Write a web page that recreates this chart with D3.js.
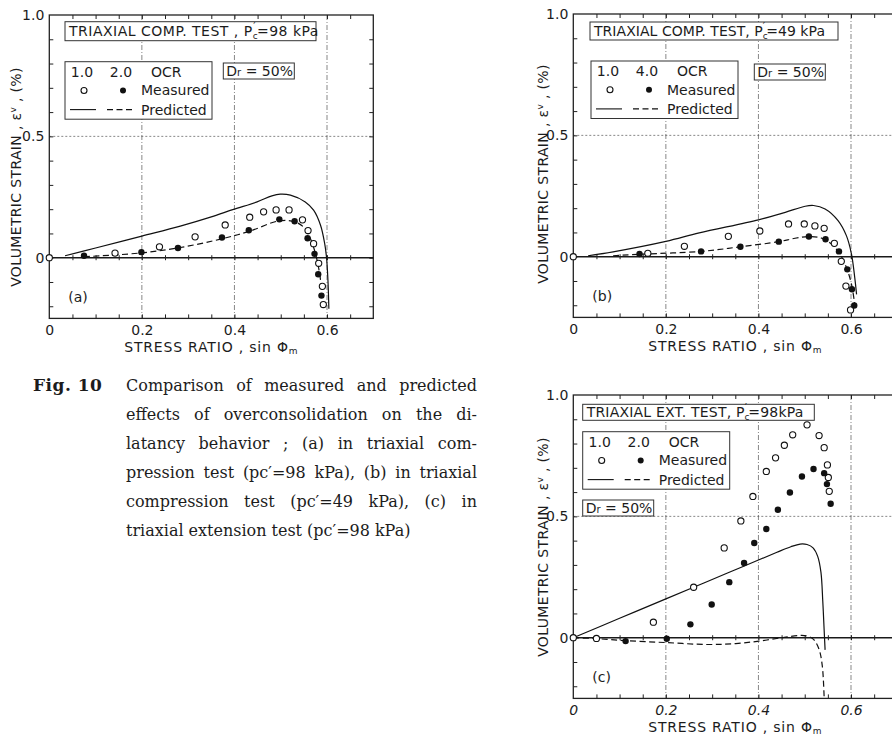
<!DOCTYPE html>
<html>
<head>
<meta charset="utf-8">
<script src="https://cdn.jsdelivr.net/npm/d3@7"></script>
<style>
  html, body { margin: 0; padding: 0; background: #fff; }
  svg { display: block; }
  text { font-family: "DejaVu Sans", "Noto Sans", sans-serif; fill: #1c1c1c; }
  .cap text { font-family: "DejaVu Serif", "Liberation Serif", serif; }
</style>
</head>
<body>
<svg id="fig" width="892" height="739"></svg>
<script>
// ---- axis settings ----
const xDomain = [0, 0.7];
const yDomain = [-0.25, 1.0];
const xTickValues = [0, 0.2, 0.4, 0.6];
const xTickLabels = ["0", "0.2", "0.4", "0.6"];
const yTickValues = [0, 0.5, 1.0];
const yTickLabels = ["0", "0.5", "1.0"];
const xGridValues = [0.2, 0.4, 0.6];
const yGridValues = [0.5];

// ---- (a) triaxial compression, p'c = 98 kPa : OCR 1.0 / 2.0 ----
const aMeasuredOcr1 = [[0,0],[0.142,0.019],[0.238,0.045],[0.315,0.086],[0.38,0.135],[0.433,0.167],[0.463,0.189],[0.490,0.197],[0.518,0.197],[0.547,0.156],[0.559,0.112],[0.571,0.058],[0.582,-0.023],[0.590,-0.118],[0.592,-0.193]];
const aMeasuredOcr2 = [[0.075,0.008],[0.199,0.023],[0.278,0.040],[0.373,0.083],[0.431,0.113],[0.497,0.158],[0.530,0.150],[0.558,0.080],[0.573,0.016],[0.581,-0.068],[0.588,-0.156]];
const aPredictedOcr1 = [[0.034,0.008],[0.1,0.04],[0.2,0.089],[0.283,0.130],[0.35,0.168],[0.398,0.199],[0.449,0.230],[0.481,0.255],[0.499,0.262],[0.521,0.258],[0.553,0.230],[0.571,0.196],[0.586,0.134],[0.595,0.058],[0.599,0],[0.602,-0.093],[0.604,-0.21]];
const aPredictedOcr2 = [[0.075,0.004],[0.2,0.02],[0.283,0.042],[0.373,0.078],[0.431,0.108],[0.497,0.152],[0.530,0.148],[0.550,0.125],[0.564,0.079],[0.575,0.017],[0.584,-0.065],[0.590,-0.162]];

// ---- (b) triaxial compression, p'c = 49 kPa : OCR 1.0 / 4.0 ----
const bMeasuredOcr1 = [[0,0],[0.161,0.014],[0.240,0.043],[0.335,0.084],[0.403,0.106],[0.465,0.135],[0.499,0.135],[0.522,0.127],[0.542,0.117],[0.564,0.055],[0.579,-0.019],[0.589,-0.121],[0.599,-0.219]];
const bMeasuredOcr4 = [[0.143,0.011],[0.276,0.022],[0.361,0.041],[0.444,0.062],[0.509,0.083],[0.545,0.072],[0.574,0.022],[0.592,-0.052],[0.602,-0.134],[0.607,-0.201]];
const bPredictedOcr1 = [[0.032,0.004],[0.086,0.02],[0.2,0.063],[0.272,0.098],[0.4,0.152],[0.458,0.183],[0.501,0.208],[0.519,0.211],[0.544,0.197],[0.572,0.149],[0.590,0.087],[0.601,0.011],[0.608,-0.085],[0.612,-0.155]];
const bPredictedOcr4 = [[0.086,0.004],[0.143,0.010],[0.276,0.022],[0.361,0.041],[0.444,0.062],[0.479,0.076],[0.509,0.083],[0.537,0.076],[0.558,0.052],[0.576,0.011],[0.590,-0.044],[0.601,-0.113],[0.608,-0.196]];

// ---- (c) triaxial extension, p'c = 98 kPa : OCR 1.0 / 2.0 ----
const cMeasuredOcr1 = [[0,0],[0.050,-0.003],[0.173,0.064],[0.260,0.208],[0.326,0.370],[0.362,0.481],[0.388,0.582],[0.417,0.685],[0.437,0.741],[0.456,0.793],[0.474,0.836],[0.505,0.877],[0.531,0.833],[0.542,0.783],[0.549,0.712],[0.551,0.660],[0.553,0.603]];
const cMeasuredOcr2 = [[0.113,-0.014],[0.202,-0.004],[0.253,0.055],[0.299,0.137],[0.337,0.229],[0.369,0.308],[0.391,0.390],[0.417,0.448],[0.442,0.527],[0.468,0.598],[0.494,0.664],[0.519,0.695],[0.542,0.678],[0.548,0.633],[0.556,0.552]];
const cPredictedOcr1 = [[0,0],[0.1,0.08],[0.2,0.16],[0.26,0.208],[0.3,0.24],[0.35,0.28],[0.4,0.32],[0.44,0.352],[0.47,0.375],[0.49,0.386],[0.505,0.384],[0.518,0.37],[0.528,0.335],[0.535,0.27],[0.539,0.15],[0.542,0.03],[0.544,-0.05]];
const cPredictedOcr2 = [[0,0],[0.05,-0.004],[0.113,-0.012],[0.2,-0.02],[0.293,-0.028],[0.351,-0.024],[0.401,-0.014],[0.451,0.0],[0.487,0.009],[0.505,0.007],[0.519,-0.007],[0.531,-0.048],[0.538,-0.117],[0.542,-0.25]];

// ---- texts ----
const captionHead = "Fig. 10";
const captionLines = [
  "Comparison of measured and predicted",
  "effects of overconsolidation on the di-",
  "latancy behavior ; (a) in triaxial com-",
  "pression test (pc\u2032=98 kPa), (b) in triaxial",
  "compression test (pc\u2032=49 kPa), (c) in",
  "triaxial extension test (pc\u2032=98 kPa)"
];

const svg = d3.select("#fig");
const PW = 324, PH = 303.4;
const x = d3.scaleLinear().domain(xDomain).range([0, PW]);
const y = d3.scaleLinear().domain(yDomain).range([PH, 0]);
const curve = d3.line().x(d => x(d[0])).y(d => y(d[1])).curve(d3.curveCatmullRom.alpha(0.5));

function styleAxis(sel, size) {
  sel.select(".domain").remove();
  sel.attr("font-family", null).attr("font-size", null);
  sel.selectAll(".tick line").attr("stroke", "#222").attr("stroke-width", 1);
  sel.selectAll(".tick text").attr("font-size", size).attr("fill", "#1c1c1c");
}

function pcText(sel, pre, post) {
  sel.append("tspan").text(pre + "P");
  sel.append("tspan").attr("font-size", 9).attr("dy", 3).text("c");
  sel.append("tspan").attr("font-size", 10).attr("dx", -5).attr("dy", -9).text("\u2032");
  sel.append("tspan").attr("dy", 6).attr("dx", 1).text(post);
}

function drawPanel(p) {
  const g = svg.append("g").attr("transform", `translate(${p.left},${p.top})`);

  // grid
  g.append("g").selectAll("line").data(xGridValues).join("line")
    .attr("x1", d => x(d)).attr("x2", d => x(d)).attr("y1", 0).attr("y2", PH)
    .attr("stroke", "#555").attr("stroke-width", 0.7).attr("stroke-dasharray", "5,2,1,2");
  g.append("g").selectAll("line").data(yGridValues).join("line")
    .attr("x1", 0).attr("x2", PW).attr("y1", d => y(d)).attr("y2", d => y(d))
    .attr("stroke", "#555").attr("stroke-width", 0.7).attr("stroke-dasharray", "2,2");

  // frame
  g.append("rect").attr("width", PW).attr("height", PH)
    .attr("fill", "none").attr("stroke", "#222").attr("stroke-width", 1.3);

  // minor ticks on all four sides
  const xMinor = d3.range(1, 14).map(i => i * 0.05);
  const yMinor = d3.range(-2, 10).map(i => i * 0.1);
  g.append("g").attr("transform", `translate(0,${PH})`)
    .call(d3.axisBottom(x).tickValues(xMinor).tickSize(-4).tickFormat(""))
    .call(s => styleAxis(s, 14));
  g.append("g")
    .call(d3.axisTop(x).tickValues(xMinor).tickSize(-4).tickFormat(""))
    .call(s => styleAxis(s, 14));
  g.append("g")
    .call(d3.axisLeft(y).tickValues(yMinor).tickSize(-4).tickFormat(""))
    .call(s => styleAxis(s, 14));
  g.append("g").attr("transform", `translate(${PW},0)`)
    .call(d3.axisRight(y).tickValues(yMinor).tickSize(-4).tickFormat(""))
    .call(s => styleAxis(s, 14));

  // zero line with its small ticks
  g.append("line").attr("x1", 0).attr("x2", PW).attr("y1", y(0)).attr("y2", y(0))
    .attr("stroke", "#1a1a1a").attr("stroke-width", 1.4);
  g.append("g").attr("transform", `translate(0,${y(0) - 2.5})`)
    .call(d3.axisBottom(x).tickValues(xMinor).tickSize(5).tickFormat(""))
    .call(s => styleAxis(s, 14));

  // tick labels
  const xl = g.append("g").attr("transform", `translate(0,${PH})`)
    .call(d3.axisBottom(x).tickValues(xTickValues).tickSize(0).tickPadding(7)
      .tickFormat((d, i) => xTickLabels[i]))
    .call(s => styleAxis(s, 14));
  if (p.italicX) xl.selectAll(".tick text").attr("font-style", "italic");
  g.append("g")
    .call(d3.axisLeft(y).tickValues(yTickValues).tickSize(0).tickPadding(5)
      .tickFormat((d, i) => yTickLabels[i]))
    .call(s => styleAxis(s, 14));

  // axis titles
  const yt = g.append("text").attr("transform", `translate(${p.yTitleX},${p.yTitleY}) rotate(-90)`)
    .attr("text-anchor", "middle").attr("font-size", 14).attr("letter-spacing", 0.35);
  yt.append("tspan").text("VOLUMETRIC STRAIN , \u03b5");
  yt.append("tspan").attr("font-size", 9).attr("dy", -5).text("v");
  yt.append("tspan").attr("dy", 5).text(" , (%)");

  const xt = g.append("text").attr("x", 162).attr("y", 337)
    .attr("text-anchor", "middle").attr("font-size", 14).attr("letter-spacing", 0.8);
  xt.append("tspan").text("STRESS RATIO , sin \u03a6");
  xt.append("tspan").attr("font-size", 9).attr("dy", 2).text("m");

  // curves
  g.append("path").datum(p.predicted1).attr("d", curve)
    .attr("fill", "none").attr("stroke", "#111").attr("stroke-width", 1.2);
  g.append("path").datum(p.predicted2).attr("d", curve)
    .attr("fill", "none").attr("stroke", "#111").attr("stroke-width", 1.2)
    .attr("stroke-dasharray", "6,3.5");

  // measured points
  g.append("g").selectAll("circle").data(p.measured1).join("circle")
    .attr("cx", d => x(d[0])).attr("cy", d => y(d[1])).attr("r", 3.1)
    .attr("fill", "#fff").attr("stroke", "#111").attr("stroke-width", 1.1);
  g.append("g").selectAll("circle").data(p.measured2).join("circle")
    .attr("cx", d => x(d[0])).attr("cy", d => y(d[1])).attr("r", 3.2)
    .attr("fill", "#111");

  // test title box
  const tb = p.titleBox;
  g.append("rect").attr("x", tb[0]).attr("y", tb[1]).attr("width", tb[2]).attr("height", tb[3])
    .attr("fill", "#fff").attr("stroke", "#333").attr("stroke-width", 1);
  const tt = g.append("text").attr("x", tb[0] + 4).attr("y", tb[1] + tb[3] / 2 + 5)
    .attr("font-size", 14).attr("letter-spacing", p.titleSpacing);
  pcText(tt, p.titlePre, p.titlePost);

  // legend box
  const lb = p.legendBox;
  const lg = g.append("g").attr("transform", `translate(${lb[0]},${lb[1]})`);
  lg.append("rect").attr("width", 147).attr("height", 57.5)
    .attr("fill", "#fff").attr("stroke", "#333").attr("stroke-width", 1);
  const rows = [10.3, 28.8, 47.9];
  lg.append("text").attr("x", 17).attr("y", rows[0] + 5).attr("text-anchor", "middle").attr("font-size", 14).text(p.ocrLabels[0]);
  lg.append("text").attr("x", 56).attr("y", rows[0] + 5).attr("text-anchor", "middle").attr("font-size", 14).text(p.ocrLabels[1]);
  lg.append("text").attr("x", 86).attr("y", rows[0] + 5).attr("font-size", 14).text("OCR");
  lg.append("circle").attr("cx", 19).attr("cy", rows[1]).attr("r", 3)
    .attr("fill", "#fff").attr("stroke", "#111").attr("stroke-width", 1.1);
  lg.append("circle").attr("cx", 58).attr("cy", rows[1]).attr("r", 3).attr("fill", "#111");
  lg.append("text").attr("x", 76).attr("y", rows[1] + 5).attr("font-size", 14).text("Measured");
  lg.append("line").attr("x1", 5).attr("x2", 31).attr("y1", rows[2]).attr("y2", rows[2])
    .attr("stroke", "#111").attr("stroke-width", 1.1);
  lg.append("line").attr("x1", 42).attr("x2", 70).attr("y1", rows[2]).attr("y2", rows[2])
    .attr("stroke", "#111").attr("stroke-width", 1.1).attr("stroke-dasharray", "6,3.5");
  lg.append("text").attr("x", 76).attr("y", rows[2] + 5).attr("font-size", 14).text("Predicted");

  // relative density box
  const db = p.drBox;
  g.append("rect").attr("x", db[0]).attr("y", db[1]).attr("width", 71).attr("height", 16)
    .attr("fill", "#fff").attr("stroke", "#333").attr("stroke-width", 1);
  const dt = g.append("text").attr("x", db[0] + 3).attr("y", db[1] + 13).attr("font-size", 14);
  dt.append("tspan").text("D");
  dt.append("tspan").attr("font-size", 10).text("r");
  dt.append("tspan").text(" = 50%");

  // panel label
  g.append("text").attr("x", 19).attr("y", 287).attr("font-size", 14).text(p.label);
}

const panelDefs = [
  { left: 49.3, top: 15, label: "(a)", yTitleX: -28, yTitleY: 162, italicX: false,
    titlePre: "TRIAXIAL COMP. TEST , ", titlePost: "=98 kPa", titleSpacing: 0.5,
    titleBox: [15.7, 6.7, 251, 19], legendBox: [15.7, 46.7], drBox: [174, 48],
    ocrLabels: ["1.0", "2.0"],
    measured1: aMeasuredOcr1, measured2: aMeasuredOcr2,
    predicted1: aPredictedOcr1, predicted2: aPredictedOcr2 },
  { left: 573.3, top: 14, label: "(b)", yTitleX: -25, yTitleY: 160, italicX: false,
    titlePre: "TRIAXIAL COMP. TEST, ", titlePost: "=49 kPa", titleSpacing: 0.05,
    titleBox: [16.7, 8, 248, 18], legendBox: [17.7, 47], drBox: [181, 50],
    ocrLabels: ["1.0", "4.0"],
    measured1: bMeasuredOcr1, measured2: bMeasuredOcr4,
    predicted1: bPredictedOcr1, predicted2: bPredictedOcr4 },
  { left: 573.3, top: 395, label: "(c)", yTitleX: -25, yTitleY: 152, italicX: true,
    titlePre: "TRIAXIAL EXT. TEST, ", titlePost: "=98kPa", titleSpacing: 0.2,
    titleBox: [9.4, 9.3, 231.6, 16], legendBox: [9.4, 36.7], drBox: [9.4, 105],
    ocrLabels: ["1.0", "2.0"],
    measured1: cMeasuredOcr1, measured2: cMeasuredOcr2,
    predicted1: cPredictedOcr1, predicted2: cPredictedOcr2 }
];
panelDefs.forEach(drawPanel);

// ---- caption, justified between the indent and the right margin ----
const cap = svg.append("g").attr("class", "cap");
const capLeft = 126, capRight = 477, capTop = 391, capStep = 29, capSize = 16;
cap.append("text").attr("x", 33).attr("y", capTop).attr("font-size", 17)
  .attr("font-weight", "bold").attr("letter-spacing", 0.5).text(captionHead);
captionLines.forEach((line, i) => {
  const words = line.split(" ");
  const t = cap.append("text").attr("y", capTop + i * capStep).attr("font-size", capSize);
  const spans = t.selectAll("tspan").data(words).join("tspan").text(d => d);
  const widths = spans.nodes().map(n => n.getComputedTextLength());
  const total = d3.sum(widths);
  const justify = i < captionLines.length - 1;
  const gap = justify ? Math.max(2, (capRight - capLeft - total) / (words.length - 1)) : 5;
  let cx = capLeft;
  spans.attr("x", (d, j) => { const v = cx; cx += widths[j] + gap; return v; });
});
</script>
</body>
</html>
